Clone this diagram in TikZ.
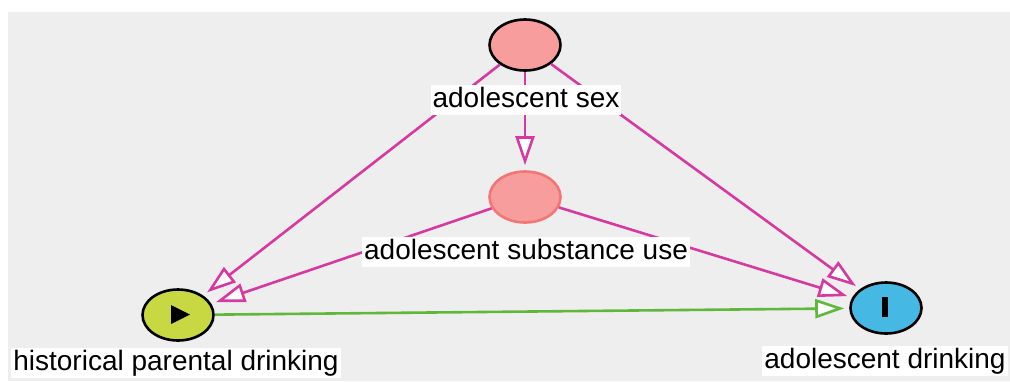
\documentclass[tikz,border=0pt]{standalone}
\usepackage{fontspec}
\setmainfont{Liberation Sans}
\usetikzlibrary{shapes.geometric,arrows.meta}
\definecolor{canvasgray}{RGB}{238,238,238}
\definecolor{biasedge}{RGB}{214,57,160}
\definecolor{causaledge}{RGB}{96,184,58}
\definecolor{ancfill}{RGB}{247,157,157}
\definecolor{ancborder}{RGB}{242,118,118}
\definecolor{expfill}{RGB}{200,216,66}
\definecolor{outfill}{RGB}{70,184,228}
\begin{document}
\begin{tikzpicture}[x=1pt,y=-1pt,
  var/.style={ellipse, minimum width=71pt, minimum height=51pt, inner sep=0pt,
              line width=2.6pt, draw=black},
  lbl/.style={fill=white, inner xsep=2pt, inner ysep=2pt, text height=20pt,
              text depth=6pt, font=\fontsize{28}{30}\selectfont, anchor=base},
  arr/.style={line width=2.6pt, -{Triangle[length=29pt,width=19pt,fill=white]},
              shorten >=5pt},
  bias/.style={arr, draw=biasedge},
  causal/.style={arr, draw=causaledge}]

% canvas
\useasboundingbox (0,0) rectangle (1010,381);
\fill[canvasgray] (8,12) rectangle (1010,381);

% variables
\node[var, fill=ancfill] (sex) at (525,45) {};
\node[var, fill=ancfill, draw=ancborder] (sub) at (525,197) {};
\node[var, fill=expfill] (par) at (178,315) {};
\node[var, fill=outfill] (dri) at (886,308) {};

% exposure and outcome marks
\fill ([shift={(-7,-10)}]par.center) -- ([shift={(-7,9)}]par.center)
      -- ([shift={(12,-0.5)}]par.center) -- cycle;
\fill ([shift={(-4,-11)}]dri.center) rectangle ([shift={(2,9)}]dri.center);

% arrows
\draw[bias] (sex) -- (sub);
\draw[bias] (sex) -- (par);
\draw[bias] (sex) -- (dri);
\draw[bias] (sub) -- (par);
\draw[bias] (sub) -- (dri);
\draw[causal] (par) -- (dri);

% labels
\node[lbl] (sexlbl) at (526,107) {adolescent sex};
\node[lbl] (sublbl) at (526,259) {adolescent substance use};
\node[lbl] (parlbl) at (176,370) {historical parental drinking};
\node[lbl] (drilbl) at (885,368) {adolescent drinking};
\end{tikzpicture}
\end{document}
